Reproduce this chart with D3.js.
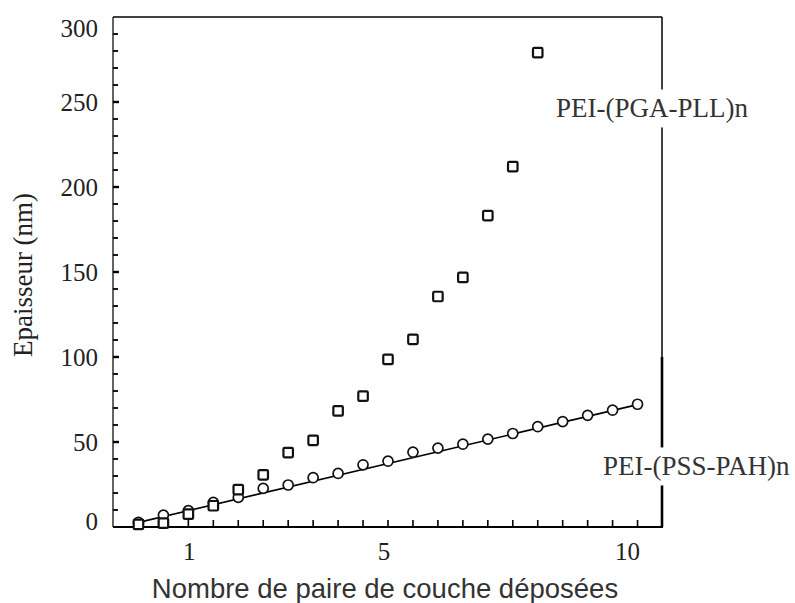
<!DOCTYPE html>
<html><head><meta charset="utf-8">
<script src="https://cdn.jsdelivr.net/npm/d3@7"></script>
<style>body{margin:0;background:#fff}svg{display:block}</style>
</head><body>
<script>
// ---- data ----
const pssX = [0,0.5,1,1.5,2,2.5,3,3.5,4,4.5,5,5.5,6,6.5,7,7.5,8,8.5,9,9.5,10];
const pssY = [2.7,7,9.6,14.5,17.4,22.7,24.7,29,31.5,36.6,38.7,44,46.4,48.7,51.7,55,59,62,65.7,68.7,72.2];
const pglX = [0,0.5,1,1.5,2,2.5,3,3.5,4,4.5,5,5.5,6,6.5,7,7.5,8];
const pglY = [1.5,2.3,7.6,12.5,22,30.7,43.8,51,68.3,77,98.6,110.4,135.6,146.8,183.2,212,279];
const fitX = [-0.1, 10];
const fitY = [2, 72];
const xTickLabels = [1,5,10];
const xMinorTicks = [0,0.5,1,1.5,2,2.5,3,3.5,4,4.5,5,5.5,6,6.5,7,7.5,8,8.5,9,9.5,10];
const yTickLabels = [0,50,100,150,200,250,300];
const yMinorTicks = [10,20,30,40,50,60,70,80,90,100,110,120,130,140,150,160,170,180,190,200,210,220,230,240,250,260,270,280,290];
const seriesNames = ["PEI-(PGA-PLL)n","PEI-(PSS-PAH)n"];
const xTitle = "Nombre de paire de couche déposées";
const yTitle = "Epaisseur (nm)";

const W = 795, H = 603;
const L = 113, R = 662, T = 17, B = 527;
const svg = d3.select("body").append("svg").attr("width", W).attr("height", H);
const x = d3.scaleLinear().domain([-0.5, 10.5]).range([L + 0.5, R + 0.5]);
const y = d3.scaleLinear().domain([0, 300]).range([B, T]);

// frame
const g = svg.append("g");
g.append("line").attr("x1", L).attr("x2", R).attr("y1", T).attr("y2", T).attr("stroke", "#000").attr("stroke-width", 1.6);
g.append("line").attr("x1", L).attr("x2", L).attr("y1", T).attr("y2", B).attr("stroke", "#222").attr("stroke-width", 1.4);
g.append("line").attr("x1", L).attr("x2", R + 1).attr("y1", B).attr("y2", B).attr("stroke", "#000").attr("stroke-width", 1.8);
g.append("line").attr("x1", R).attr("x2", R).attr("y1", T).attr("y2", B).attr("stroke", "#000").attr("stroke-width", 1.5);
g.append("line").attr("x1", R).attr("x2", R).attr("y1", y(100)).attr("y2", B).attr("stroke", "#000").attr("stroke-width", 2.6);

// y ticks (inward)
g.selectAll(".yt").data(yMinorTicks).enter().append("line")
  .attr("x1", L).attr("x2", d => L + (d % 50 === 0 ? 6 : 5))
  .attr("y1", d => y(d)).attr("y2", d => y(d))
  .attr("stroke", "#000").attr("stroke-width", d => d % 50 === 0 ? 2.4 : 1.8);
// x ticks (inward)
g.selectAll(".xt").data(xMinorTicks.filter(d => d >= 1)).enter().append("line")
  .attr("x1", d => x(d)).attr("x2", d => x(d))
  .attr("y1", B).attr("y2", B - 7)
  .attr("stroke", "#000").attr("stroke-width", 1.6);

// tick labels
svg.selectAll(".yl").data(yTickLabels).enter().append("text")
  .attr("x", 98).attr("y", d => Math.min(Math.max(y(d), 28), 521))
  .attr("dy", "0.35em").attr("text-anchor", "end")
  .attr("font-family", "Liberation Serif, serif").attr("font-size", 25).attr("fill", "#222")
  .text(d => d);
const xLabelShift = {1: 1, 5: -4, 10: -10};
svg.selectAll(".xl").data(xTickLabels).enter().append("text")
  .attr("x", d => x(d) + xLabelShift[d])
  .attr("y", 551).attr("dy", "0.35em")
  .attr("text-anchor", "middle")
  .attr("font-family", "Liberation Serif, serif").attr("font-size", 25).attr("fill", "#222")
  .text(d => d);

// titles
svg.append("text").attr("transform", "translate(23,275) rotate(-90)")
  .attr("text-anchor", "middle").attr("dy", "0.35em")
  .attr("font-family", "Liberation Serif, serif").attr("font-size", 27).attr("fill", "#222")
  .text(yTitle);
svg.append("text").attr("x", 385).attr("y", 588).attr("dy", "0.35em")
  .attr("text-anchor", "middle")
  .attr("font-family", "Liberation Sans, Arial, sans-serif").attr("font-size", 27.5).attr("fill", "#333")
  .text(xTitle);

// fit line
const line = d3.line().x(d => x(d[0])).y(d => y(d[1]));
svg.append("path").datum(fitX.map((v, i) => [v, fitY[i]]))
  .attr("d", line).attr("fill", "none").attr("stroke", "#000").attr("stroke-width", 1.6);

// circles
svg.selectAll(".c").data(pssX.map((v, i) => [v, pssY[i]])).enter().append("circle")
  .attr("cx", d => x(d[0])).attr("cy", d => y(d[1])).attr("r", 5)
  .attr("fill", "#fff").attr("stroke", "#111").attr("stroke-width", 1.7);
// squares
const s = 9.5;
svg.selectAll(".sq").data(pglX.map((v, i) => [v, pglY[i]])).enter().append("rect")
  .attr("x", d => x(d[0]) - s / 2).attr("y", d => y(d[1]) - s / 2)
  .attr("width", s).attr("height", s).attr("rx", 1.2)
  .attr("fill", "#fff").attr("stroke", "#111").attr("stroke-width", 2.2);

// series labels with white background
const labs = [{t: seriesNames[0], x: 556, y: 108}, {t: seriesNames[1], x: 603, y: 466}];
labs.forEach(l => {
  const t = svg.append("text").attr("x", l.x).attr("y", l.y).attr("dy", "0.35em")
    .attr("font-family", "Liberation Serif, serif").attr("font-size", 27).attr("fill", "#333")
    .text(l.t);
  const bb = t.node().getBBox();
  svg.insert("rect", () => t.node()).attr("x", bb.x - 3).attr("y", bb.y - 4)
    .attr("width", bb.width + 6).attr("height", bb.height + 8).attr("fill", "#fff");
});
</script>
</body></html>
